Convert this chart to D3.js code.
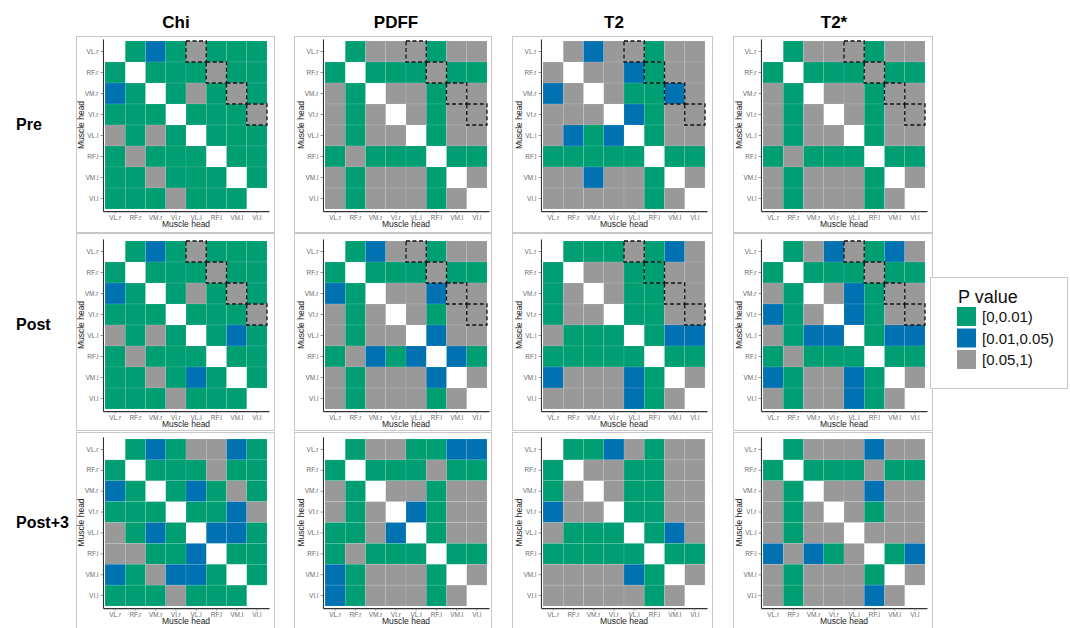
<!DOCTYPE html>
<html><head><meta charset="utf-8">
<script src="https://cdn.jsdelivr.net/npm/d3@7"></script>
<style>body{margin:0;background:#fff}svg{display:block}</style>
</head><body>
<script>
const muscles = ["VL.r","RF.r","VM.r","VI.r","VL.l","RF.l","VM.l","VI.l"];
const measures = ["Chi","PDFF","T2","T2*"];
const timepoints = ["Pre","Post","Post+3"];
const pLevels = ["[0,0.01)","[0.01,0.05)","[0.05,1)"];
const pColors = ["#009E73","#0072B2","#999999"];
// codes: G=[0,0.01) B=[0.01,0.05) X=[0.05,1) -=diagonal (no value)
const chiPre   = ["-GBGXGGG","G-GGGXGG","BG-GXGXG","GGG-GGGX","XGXG-GGG","GXGGG-GG","GGXGGG-G","GGGXGGG-"];
const pdffPre  = ["-GXXXGXX","G-GGGXGG","XG-XXGXX","XGX-XGXX","XGXX-GXX","GXGGG-GG","XGXXXG-X","XGXXXGX-"];
const t2Pre    = ["-XBXXGXX","X-XXBGXX","BX-XGGBX","XXX-BGXX","XBGB-GXX","GGGGG-GG","XXBXXG-X","XXXXXGX-"];
const t2sPre   = ["-GXXXGXX","G-GGGXGG","XG-XXGXX","XGX-XGXX","XGXX-GXX","GXGGG-GG","XGXXXG-X","XGXXXGX-"];
const chiPost  = ["-GBGXGGG","G-GGGXGG","BG-GXGXG","GGG-GGGX","XGXG-GBG","GXGGG-GG","GGXGBG-G","GGGXGGG-"];
const pdffPost = ["-GBXXGXX","G-GGGXGG","BG-XXBXX","XGX-XGXX","XGXX-BXX","GXBGB-BG","XGXXXB-X","XGXXXGX-"];
const t2Post   = ["-GGGXGBX","G-XXGGXX","GX-XGGXX","GXX-GGXX","XGGG-GBB","GGGGG-GG","BXXXBG-X","XXXXBGX-"];
const t2sPost  = ["-GXBXGBX","G-GGGXGG","XG-XBGXX","BGX-BGXX","XGBB-GBB","GXGGG-GG","BGXXBG-X","XGXXBGX-"];
const chiP3    = ["-GBGXXBG","G-GGGXGG","BG-GBGXG","GGG-GGBX","XGBG-BBG","XXGGB-GG","BGXBBG-G","GGGXGGG-"];
const pdffP3   = ["-GXXGGBB","G-GGGXGG","XG-XXGXX","XGX-BGXX","GGXB-GXX","GXGGG-GG","BGXXXG-X","BGXXXGX-"];
const t2P3     = ["-GGBXGXX","G-XXGGXX","GX-XGGXX","BXX-GGXX","XGGG-GBX","GGGGG-GG","XXXXBG-X","XXXXXGX-"];
const t2sP3    = ["-GXXXBXX","G-GGGXGG","XG-XXBXX","XGX-XGXX","XGXX-XXX","BXBGX-GB","XGXXXG-X","XGXXXBX-"];
const panels = [
  [chiPre, pdffPre, t2Pre, t2sPre],
  [chiPost, pdffPost, t2Post, t2sPost],
  [chiP3, pdffP3, t2P3, t2sP3]
];
// dashed highlight pairs (right vs left same muscle) shown for Pre and Post
const highlightPairs = [["VL.r","VL.l"],["RF.r","RF.l"],["VM.r","VM.l"],["VI.r","VI.l"]];
const highlightRows = ["Pre","Post"];

const W = 1070, H = 628;
const svg = d3.select("body").append("svg").attr("width", W).attr("height", H);
const codeIdx = {G:0, B:1, X:2};

const gridLeft = [105, 325, 543, 763];
const gridTop = [41, 241, 439];
const gridW = 162;
const gridHs = [168, 168, 167];
const boxX = [[76,274],[294,491],[512,712],[733,932]];
const boxY = [[36,232],[233,430],[432,640]];

const font = "'Liberation Sans', Arial, sans-serif";

// titles
measures.forEach((m, c) => {
  svg.append("text").attr("x", gridLeft[c] + gridW/2 - 10).attr("y", 28)
    .attr("text-anchor","middle").attr("font-family", font).attr("font-weight","bold")
    .attr("font-size", 17).text(m);
});
timepoints.forEach((t, r) => {
  svg.append("text").attr("x", 16).attr("y", gridTop[r] + gridHs[r]/2 + 5)
    .attr("font-family", font).attr("font-weight","bold").attr("font-size", 16).text(t);
});

panels.forEach((row, r) => {
  const gridH = gridHs[r];
  row.forEach((mat, c) => {
    svg.append("rect").attr("x", boxX[c][0]+0.5).attr("y", boxY[r][0]+0.5)
      .attr("width", boxX[c][1]-boxX[c][0]).attr("height", boxY[r][1]-boxY[r][0])
      .attr("fill","none").attr("stroke","#c8c8c8").attr("stroke-width",1);
    const step = gridW / 8, stepY = gridH / 8;
    const x = d3.scaleBand().domain(muscles).paddingInner(0).paddingOuter(0.1)
      .range([gridLeft[c] - 0.1*step, gridLeft[c] + gridW + 0.1*step]);
    const y = d3.scaleBand().domain(muscles).paddingInner(0).paddingOuter(0.1)
      .range([gridTop[r] - 0.1*stepY, gridTop[r] + gridH + 0.1*stepY]);
    const g = svg.append("g");
    const cells = [];
    mat.forEach((s, i) => s.split("").forEach((ch, j) => {
      if (ch !== "-") cells.push({row: muscles[i], col: muscles[j], v: codeIdx[ch]});
    }));
    g.selectAll("rect.cell").data(cells).join("rect").attr("class","cell")
      .attr("x", d => x(d.col)).attr("y", d => y(d.row))
      .attr("width", x.bandwidth()).attr("height", y.bandwidth())
      .attr("fill", d => pColors[d.v])
      .attr("stroke","#ffffff").attr("stroke-opacity",0.18).attr("stroke-width",0.6);
    if (highlightRows.includes(timepoints[r])) {
      g.selectAll("rect.hl").data(highlightPairs).join("rect").attr("class","hl")
        .attr("x", d => x(d[1])).attr("y", d => y(d[0]))
        .attr("width", x.bandwidth()).attr("height", y.bandwidth())
        .attr("fill","none").attr("stroke","#111").attr("stroke-width",1.3)
        .attr("stroke-dasharray","4,2.5");
    }
    const y0 = y.range()[1];
    const xa = g.append("g").attr("transform", `translate(0,${y0})`)
      .call(d3.axisBottom(x).tickSize(2.5).tickSizeOuter(0).tickPadding(2));
    const ya = g.append("g").attr("transform", `translate(${x.range()[0]},0)`)
      .call(d3.axisLeft(y).tickSize(2.5).tickSizeOuter(0).tickPadding(2));
    [xa, ya].forEach(a => {
      a.select(".domain").attr("stroke","#333").attr("stroke-width",1.1);
      a.selectAll(".tick line").attr("stroke","#555").attr("stroke-width",0.6);
      a.selectAll(".tick text").attr("fill","#6b6b6b").attr("font-family", font).attr("font-size", 6.5);
    });
    g.append("text").attr("x", gridLeft[c] + gridW/2).attr("y", y0 + 16)
      .attr("text-anchor","middle").attr("font-family", font).attr("font-size", 8.5)
      .attr("fill","#222").text("Muscle head");
    g.append("text").attr("transform", `translate(${gridLeft[c]-21},${gridTop[r]+gridH/2}) rotate(-90)`)
      .attr("text-anchor","middle").attr("font-family", font).attr("font-size", 8.5)
      .attr("fill","#222").text("Muscle head");
  });
});

// legend
const lg = svg.append("g");
lg.append("rect").attr("x", 930.5).attr("y", 277.5).attr("width", 137).attr("height", 111)
  .attr("fill","#fff").attr("stroke","#c8c8c8");
lg.append("text").attr("x", 958).attr("y", 303).attr("font-family", font).attr("font-size", 18)
  .attr("fill","#111").text("P value");
pLevels.forEach((p, i) => {
  lg.append("rect").attr("x", 957).attr("y", 307 + i*21.5).attr("width", 19).attr("height", 19)
    .attr("fill", pColors[i]);
  lg.append("text").attr("x", 982).attr("y", 322 + i*21.5).attr("font-family", font)
    .attr("font-size", 15).attr("fill","#111").text(p);
});
</script>
</body></html>
